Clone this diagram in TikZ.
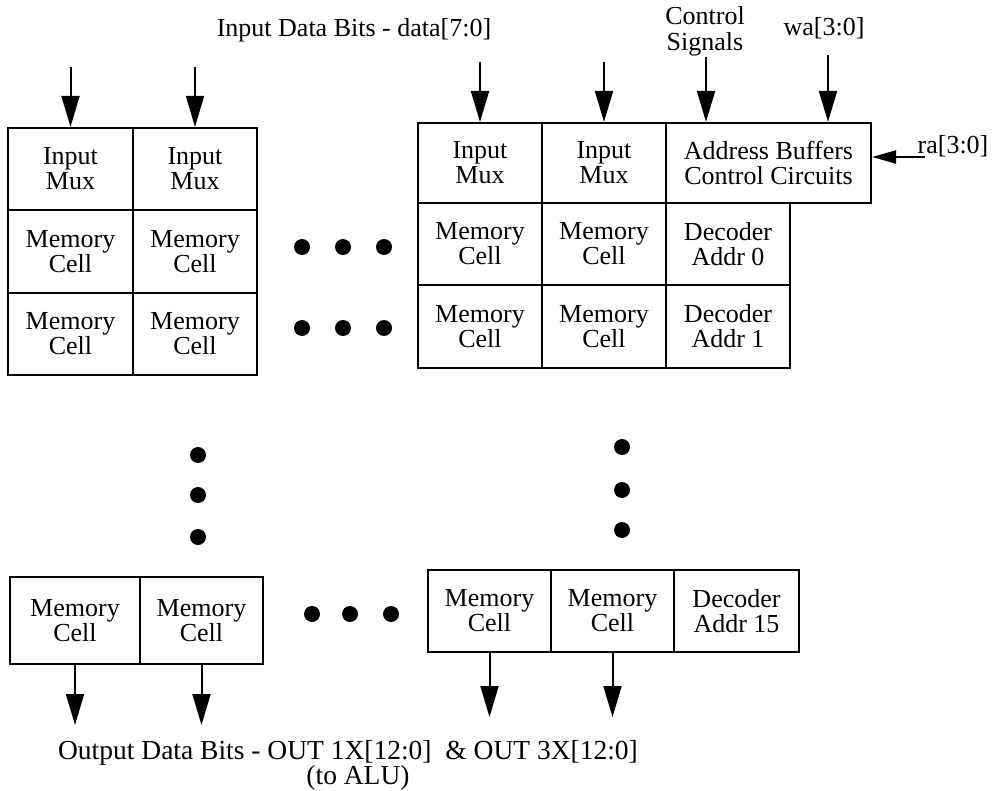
\documentclass[tikz,border=0pt]{standalone}
\usepackage{fontspec}
\setmainfont{Liberation Serif}
\usetikzlibrary{arrows.meta}
\begin{document}
\begin{tikzpicture}[x=1pt,y=-1pt,
  cell/.style={draw, line width=2.2pt, inner sep=0pt, align=center, font=\fontsize{26}{25}\selectfont},
  lbl/.style={inner sep=0pt, align=center, font=\fontsize{26}{26}\selectfont},
  arr/.style={line width=2pt, -{Triangle[width=18pt,length=31pt]}},
  smallarr/.style={line width=2pt, -{Triangle[width=13pt,length=24pt]}},
  bigdot/.style={circle, fill, inner sep=0pt, minimum size=16pt}]
\useasboundingbox (0,0) rectangle (992,791);
% left block
\node[cell, minimum width=125pt, minimum height=82pt] (L11) at (70.5,169) {Input\\Mux};
\node[cell, minimum width=124pt, minimum height=82pt] (L12) at (195,169) {Input\\Mux};
\node[cell, minimum width=125pt, minimum height=83pt] (L21) at (70.5,251.5) {Memory\\Cell};
\node[cell, minimum width=124pt, minimum height=83pt] (L22) at (195,251.5) {Memory\\Cell};
\node[cell, minimum width=125pt, minimum height=82pt] (L31) at (70.5,334) {Memory\\Cell};
\node[cell, minimum width=124pt, minimum height=82pt] (L32) at (195,334) {Memory\\Cell};
% right block
\node[cell, minimum width=124pt, minimum height=80pt] (R11) at (480,163) {Input\\Mux};
\node[cell, minimum width=124pt, minimum height=80pt] (R12) at (604,163) {Input\\Mux};
\node[cell, minimum width=205pt, minimum height=80pt] (R13) at (768.5,163) {Address Buffers\\Control Circuits};
\node[cell, minimum width=124pt, minimum height=82pt] (R21) at (480,244) {Memory\\Cell};
\node[cell, minimum width=124pt, minimum height=82pt] (R22) at (604,244) {Memory\\Cell};
\node[cell, minimum width=124pt, minimum height=82pt] (R23) at (728,244) {Decoder\\Addr 0};
\node[cell, minimum width=124pt, minimum height=83pt] (R31) at (480,326.5) {Memory\\Cell};
\node[cell, minimum width=124pt, minimum height=83pt] (R32) at (604,326.5) {Memory\\Cell};
\node[cell, minimum width=124pt, minimum height=83pt] (R33) at (728,326.5) {Decoder\\Addr 1};
% bottom left
\node[cell, minimum width=130pt, minimum height=87pt] (B11) at (75,620.5) {Memory\\Cell};
\node[cell, minimum width=123pt, minimum height=87pt] (B12) at (201.5,620.5) {Memory\\Cell};
% bottom right
\node[cell, minimum width=123pt, minimum height=82pt] (B21) at (489.5,611) {Memory\\Cell};
\node[cell, minimum width=123pt, minimum height=82pt] (B22) at (612.5,611) {Memory\\Cell};
\node[cell, minimum width=125pt, minimum height=82pt] (B23) at (736.5,611) {Decoder\\Addr 15};
% dots
\foreach \x/\n in {302/a,343/b,384/c} {
  \node[bigdot] (d1\n) at (\x,247) {};
  \node[bigdot] (d2\n) at (\x,328) {};
}
\foreach \x/\n in {312/a,350/b,391/c} {
  \node[bigdot] (d3\n) at (\x,614) {};
}
\foreach \y/\n in {455/a,495/b,537/c} {
  \node[bigdot] (vl\n) at (198,\y) {};
}
\foreach \y/\n in {447/a,490/b,530/c} {
  \node[bigdot] (vr\n) at (622,\y) {};
}
% labels
\node[lbl] (tlab) at (354,30) {Input Data Bits - data[7:0]};
\node[lbl] (ctlab) at (705,31) {Control\\Signals};
\node[lbl] (walab) at (824,28) {wa[3:0]};
\node[lbl] (ralab) at (953,146) {ra[3:0]};
\node[lbl, font=\fontsize{27.5}{27}\selectfont] (outlab) at (348,753) {Output Data Bits - OUT 1X[12:0]\ \ \& OUT 3X[12:0]};
\node[lbl, font=\fontsize{27.5}{27}\selectfont] (alulab) at (358,778) {(to ALU)};
% input arrows
\coordinate (i1) at (70.5,67);
\coordinate (i2) at (195,67);
\coordinate (i3) at (480,62);
\coordinate (i4) at (604,62);
\coordinate (ctl) at (706,57);
\coordinate (wa) at (828,55);
\coordinate (ra) at (925,157);
\draw[arr] (i1) -- (L11.north);
\draw[arr] (i2) -- (L12.north);
\draw[arr] (i3) -- (R11.north);
\draw[arr] (i4) -- (R12.north);
\draw[arr] (ctl) -- (ctl |- R13.north);
\draw[arr] (wa) -- (wa |- R13.north);
\draw[smallarr] (ra) -- (ra -| R13.east);
% output arrows
\coordinate (o1) at (75,725);
\coordinate (o2) at (201.5,725);
\coordinate (o3) at (489.5,717);
\coordinate (o4) at (612.5,717);
\draw[arr] (B11.south) -- (o1);
\draw[arr] (B12.south) -- (o2);
\draw[arr] (B21.south) -- (o3);
\draw[arr] (B22.south) -- (o4);
\end{tikzpicture}
\end{document}
